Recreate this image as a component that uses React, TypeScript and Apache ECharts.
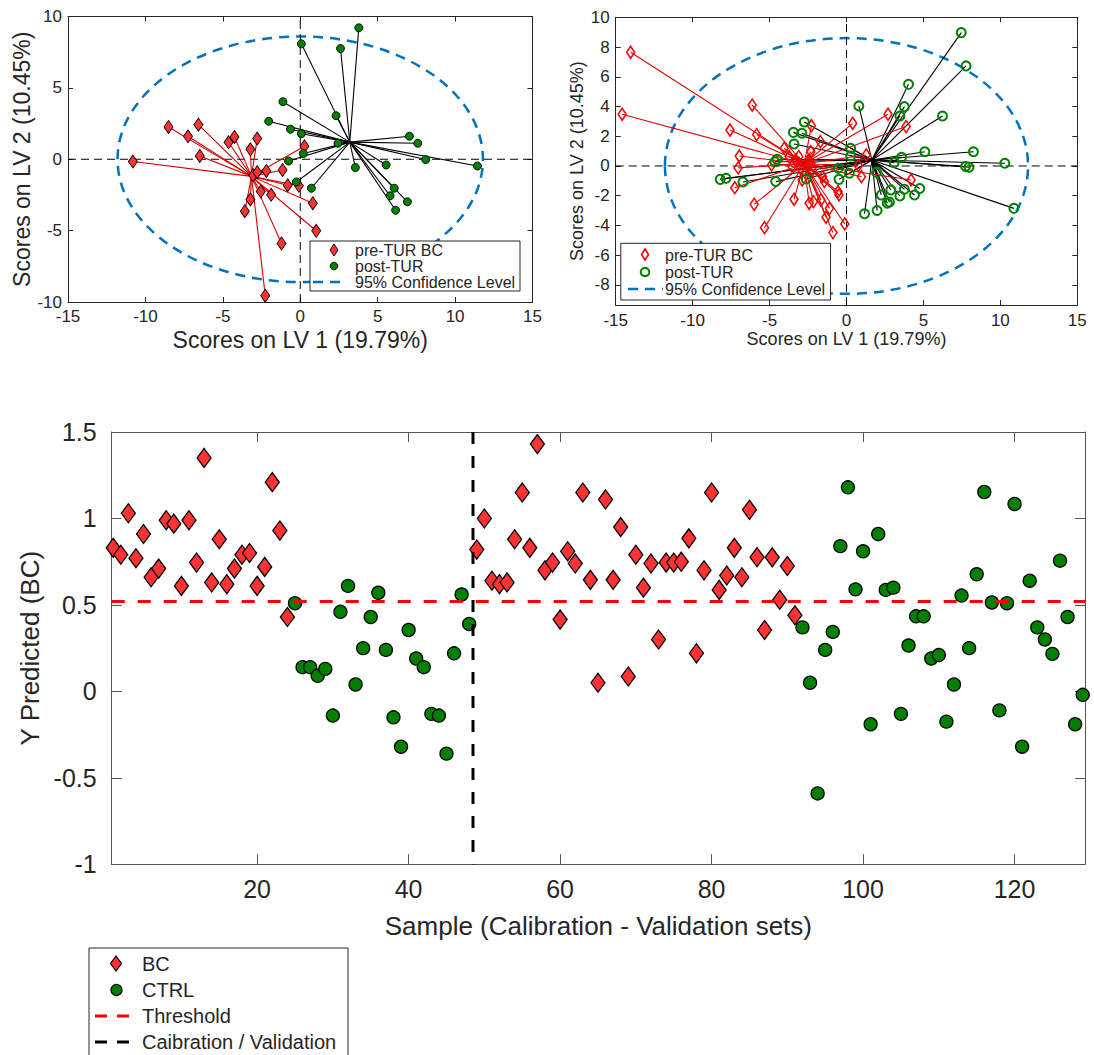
import React, { useEffect, useRef } from "react";
import * as echarts from "echarts";

const FONT = "'Liberation Sans', Arial, Helvetica, sans-serif";
const TXT = "#262626";
const RED_FILL = "#FF3333";
const GREEN = "#008000";
const BLUE = "#0072BD";

// ---------- Top-left: calibration scores (LV1, LV2) ----------
const calBCScores: number[][] = [
  [-10.81, -0.16], [-8.51, 2.26], [-7.25, 1.61], [-6.58, 2.42], [-6.49, 0.23], [-4.63, 1.19],
  [-4.25, 1.56], [-2.78, 1.45], [-3.22, 0.7], [-3.58, -3.64], [-3.22, -2.82], [-3.04, -1.12],
  [-2.78, -0.91], [-2.19, -0.82], [-2.55, -2.26], [-1.88, -2.49], [-1.14, -0.75], [-0.81, -1.82],
  [-0.09, -1.86], [0.27, 0.91], [0.81, -3.08], [1.03, -5.01], [-1.21, -5.9], [-2.26, -9.56],
];
const calCTRLScores: number[][] = [
  [0.07, 8.09], [2.6, 7.76], [3.78, 9.21], [-1.12, 4.03], [2.31, 3.05], [-2.04, 2.66],
  [-0.63, 2.1], [0.07, 1.79], [2.44, 1.12], [0.2, 0.4], [-0.76, -0.12], [-0.25, -1.59],
  [0.72, -2.03], [3.56, -0.58], [5.55, -0.4], [7.05, 1.61], [7.59, 1.12], [8.1, -0.02],
  [11.44, -0.47], [6.07, -2.03], [5.8, -2.56], [6.92, -2.98], [6.16, -3.57],
];
const calBCCentroid = [-3.15, -1.2];
const calCTRLCentroid = [3.2, 1.2];

// ---------- Top-right: validation scores ----------
const valBCScores: number[][] = [
  [-14.03, 7.65], [-14.58, 3.48], [-7.57, 2.42], [-6.13, 4.1], [-5.84, 2.11], [-6.97, 0.67],
  [-7.04, -0.13], [-7.26, -1.46], [-6.0, -2.58], [-5.33, -4.15], [-4.87, 0.07], [-4.05, 1.19],
  [-3.72, 0.63], [-3.41, -2.24], [-2.88, -0.94], [-2.43, -2.51], [-2.15, -2.4], [-2.28, 2.71],
  [-2.32, 0.96], [-1.7, 1.64], [-1.55, -0.72], [-1.44, -1.05], [-1.66, -2.29], [-1.33, -3.45],
  [-1.11, -2.85], [-0.88, -4.48], [-0.55, -1.73], [-0.49, -1.95], [-0.11, -3.9], [0.4, 2.87],
  [0.77, 0.02], [0.97, -0.72], [1.28, 0.74], [2.7, 3.48], [3.87, 2.65], [4.2, -0.94],
  [-3.32, 0.4], [-3.1, 0.63], [-2.99, -0.16], [-2.54, 0.29], [-2.32, 0.18], [-2.21, -0.27], [-3.54, -0.04],
];
const valCTRLScores: number[][] = [
  [7.46, 8.97], [7.77, 6.73], [4.03, 5.49], [3.76, 3.99], [3.47, 3.36], [6.24, 3.36],
  [0.8, 4.04], [-2.74, 2.96], [-3.45, 2.26], [-2.9, 2.2], [-3.41, 1.48], [0.27, 1.19],
  [0.27, 0.67], [-4.51, 0.45], [-4.65, 0.29], [-4.6, -1.05], [-6.73, -1.08], [-7.83, -0.83],
  [-8.21, -0.9], [-2.63, -0.87], [-0.53, -0.16], [-0.49, -0.9], [0.18, -0.49], [1.95, -0.43],
  [1.17, -3.21], [1.99, -3.0], [2.26, -1.95], [2.65, -2.51], [2.79, -2.42], [2.88, -1.61],
  [3.1, 0.22], [3.58, 0.58], [3.47, -2.02], [3.76, -1.57], [4.42, -1.95], [4.76, -1.52],
  [5.09, 0.96], [8.25, 0.96], [10.29, 0.18], [7.74, -0.04], [7.96, -0.09], [10.88, -2.85],
];
const valBCCentroid = [-2.75, 0.15];
const valCTRLCentroid = [1.65, 0.4];

const confidenceSemiAxes = [11.8, 8.6];
const lv1Ticks = [-15, -10, -5, 0, 5, 10, 15];
const calLv2Ticks = [-10, -5, 0, 5, 10];
const valLv2Ticks = [-8, -6, -4, -2, 0, 2, 4, 6, 8, 10];

// ---------- Bottom: Y predicted ----------
const calBCPred = [0.83, 0.79, 1.03, 0.77, 0.91, 0.66, 0.71, 0.99, 0.97, 0.61, 0.99, 0.745, 1.35, 0.63, 0.88, 0.62, 0.71, 0.79, 0.8, 0.61, 0.72, 1.21, 0.93, 0.43];
const calCTRLPred = [0.51, 0.14, 0.14, 0.09, 0.13, -0.14, 0.46, 0.61, 0.04, 0.25, 0.43, 0.57, 0.24, -0.15, -0.32, 0.355, 0.19, 0.14, -0.13, -0.14, -0.36, 0.22, 0.56, 0.39];
const valBCPred = [0.82, 1.0, 0.64, 0.62, 0.63, 0.88, 1.15, 0.83, 1.43, 0.7, 0.745, 0.415, 0.81, 0.74, 1.15, 0.645, 0.05, 1.11, 0.645, 0.95, 0.086, 0.79, 0.6, 0.74, 0.3, 0.745, 0.745, 0.75, 0.885, 0.22, 0.7, 1.15, 0.587, 0.67, 0.83, 0.66, 1.05, 0.776, 0.355, 0.775, 0.53, 0.725, 0.44];
const valCTRLPred = [0.37, 0.05, -0.59, 0.24, 0.344, 0.84, 1.18, 0.59, 0.81, -0.19, 0.91, 0.587, 0.6, -0.13, 0.265, 0.434, 0.434, 0.19, 0.21, -0.175, 0.04, 0.554, 0.25, 0.677, 1.153, 0.514, -0.11, 0.51, 1.084, -0.32, 0.64, 0.37, 0.3, 0.217, 0.756, 0.43, -0.19, -0.02];
const threshold = 0.52;
const calValBoundary = 48.5;
const sampleTicks = [20, 40, 60, 80, 100, 120];
const yPredTicks = [-1, -0.5, 0, 0.5, 1, 1.5];
const sampleRange = [0.8, 129.3];
const yPredRange = [-1, 1.5];

function axis(o: any) {
  return {
    type: "value",
    gridIndex: o.grid,
    position: o.pos,
    min: o.min,
    max: o.max,
    axisLine: { show: true, onZero: false, lineStyle: { color: o.color, width: 1 } },
    axisTick: { show: true, inside: true, length: o.tickLen, customValues: o.ticks, lineStyle: { color: o.color, width: 1 } },
    axisLabel: {
      show: !!o.labels,
      customValues: o.ticks,
      fontSize: o.fs,
      color: TXT,
      fontFamily: FONT,
      margin: o.margin,
      formatter: (v: number) => String(v),
    },
    splitLine: { show: false },
    name: o.name || "",
    nameLocation: "middle",
    nameGap: o.nameGap || 0,
    nameTextStyle: { fontSize: o.nfs || 12, color: TXT, fontFamily: FONT },
    silent: true,
  };
}

function spokes(points: number[][], centroid: number[]) {
  return points.map((p) => ({ coords: [centroid, p] }));
}

function buildSamples(groups: number[][]) {
  // returns [[sample, value]...] for consecutive groups
  let n = 1;
  return groups.map((g) => g.map((v) => [n++, v]));
}

export default function App() {
  const ref = useRef<HTMLDivElement>(null);
  useEffect(() => {
    const chart = echarts.init(ref.current!, null, { renderer: "svg" });
    const [calBCS, calCTRLS, valBCS, valCTRLS] = buildSamples([calBCPred, calCTRLPred, valBCPred, valCTRLPred]);

    const option: any = {
      animation: false,
      grid: [
        { left: 68, top: 16.5, width: 464.5, height: 285.5, containLabel: false, outerBoundsMode: "none" },
        { left: 615.7, top: 17.3, width: 461.6, height: 287.7, containLabel: false, outerBoundsMode: "none" },
        { left: 111.7, top: 432, width: 973.3, height: 432.3, containLabel: false, outerBoundsMode: "none" },
      ],
      xAxis: [
        axis({ grid: 0, pos: "bottom", min: -15, max: 15, ticks: lv1Ticks, color: TXT, tickLen: 5, labels: true, fs: 17, margin: 6, name: "Scores on LV 1 (19.79%)", nameGap: 26, nfs: 23 }),
        axis({ grid: 0, pos: "top", min: -15, max: 15, ticks: lv1Ticks, color: TXT, tickLen: 5 }),
        axis({ grid: 1, pos: "bottom", min: -15, max: 15, ticks: lv1Ticks, color: TXT, tickLen: 5, labels: true, fs: 17, margin: 7, name: "Scores on LV 1 (19.79%)", nameGap: 25, nfs: 18 }),
        axis({ grid: 1, pos: "top", min: -15, max: 15, ticks: lv1Ticks, color: TXT, tickLen: 5 }),
        axis({ grid: 2, pos: "bottom", min: sampleRange[0], max: sampleRange[1], ticks: sampleTicks, color: "#555", tickLen: 10, labels: true, fs: 25, margin: 12, name: "Sample (Calibration - Validation sets)", nameGap: 49, nfs: 26 }),
        axis({ grid: 2, pos: "top", min: sampleRange[0], max: sampleRange[1], ticks: sampleTicks, color: "#555", tickLen: 10 }),
      ],
      yAxis: [
        axis({ grid: 0, pos: "left", min: -10, max: 10, ticks: calLv2Ticks, color: TXT, tickLen: 5, labels: true, fs: 17, margin: 6, name: "Scores on LV 2 (10.45%)", nameGap: 33, nfs: 23 }),
        axis({ grid: 0, pos: "right", min: -10, max: 10, ticks: calLv2Ticks, color: TXT, tickLen: 5 }),
        axis({ grid: 1, pos: "left", min: -9.35, max: 10, ticks: valLv2Ticks, color: TXT, tickLen: 5, labels: true, fs: 17, margin: 6, name: "Scores on LV 2 (10.45%)", nameGap: 30, nfs: 18 }),
        axis({ grid: 1, pos: "right", min: -9.35, max: 10, ticks: valLv2Ticks, color: TXT, tickLen: 5 }),
        axis({ grid: 2, pos: "left", min: yPredRange[0], max: yPredRange[1], ticks: yPredTicks, color: "#555", tickLen: 10, labels: true, fs: 25, margin: 15, name: "Y Predicted (BC)", nameGap: 60, nfs: 26 }),
        axis({ grid: 2, pos: "right", min: yPredRange[0], max: yPredRange[1], ticks: yPredTicks, color: "#555", tickLen: 10 }),
      ],
      series: [
        // ---- top-left ----
        { type: "line", xAxisIndex: 0, yAxisIndex: 0, data: [[0, -10], [0, 10]], symbol: "none", z: 1, silent: true, lineStyle: { color: "#000", width: 1, type: [8, 5] } },
        { type: "line", xAxisIndex: 0, yAxisIndex: 0, data: [[-15, 0], [15, 0]], symbol: "none", z: 1, silent: true, lineStyle: { color: "#000", width: 1, type: [8, 5] } },
        { type: "lines", coordinateSystem: "cartesian2d", xAxisIndex: 0, yAxisIndex: 0, z: 2, silent: true, data: spokes(calCTRLScores, calCTRLCentroid), lineStyle: { color: "#000", width: 1.1, opacity: 1, curveness: 0 } },
        { type: "lines", coordinateSystem: "cartesian2d", xAxisIndex: 0, yAxisIndex: 0, z: 2, silent: true, data: spokes(calBCScores, calBCCentroid), lineStyle: { color: "#D40000", width: 1.1, opacity: 1, curveness: 0 } },
        { name: "pre-TUR BC", type: "scatter", xAxisIndex: 0, yAxisIndex: 0, z: 3, silent: true, symbol: "diamond", symbolSize: [9, 13], data: calBCScores, itemStyle: { color: RED_FILL, borderColor: "#000", borderWidth: 0.9, opacity: 1 } },
        { name: "post-TUR", type: "scatter", xAxisIndex: 0, yAxisIndex: 0, z: 3, silent: true, symbol: "circle", symbolSize: 8, data: calCTRLScores, itemStyle: { color: GREEN, borderColor: "#000", borderWidth: 0.9, opacity: 1 } },
        // ---- top-right ----
        { type: "line", xAxisIndex: 2, yAxisIndex: 2, data: [[0, -9.35], [0, 10]], symbol: "none", z: 1, silent: true, lineStyle: { color: "#000", width: 1, type: [8, 5] } },
        { type: "line", xAxisIndex: 2, yAxisIndex: 2, data: [[-15, 0], [15, 0]], symbol: "none", z: 1, silent: true, lineStyle: { color: "#000", width: 1, type: [8, 5] } },
        { type: "lines", coordinateSystem: "cartesian2d", xAxisIndex: 2, yAxisIndex: 2, z: 2, silent: true, data: spokes(valCTRLScores, valCTRLCentroid), lineStyle: { color: "#000", width: 1.1, opacity: 1, curveness: 0 } },
        { type: "lines", coordinateSystem: "cartesian2d", xAxisIndex: 2, yAxisIndex: 2, z: 2, silent: true, data: spokes(valBCScores, valBCCentroid), lineStyle: { color: "#E00000", width: 1.1, opacity: 1, curveness: 0 } },
        { name: "pre-TUR BC val", type: "scatter", xAxisIndex: 2, yAxisIndex: 2, z: 3, silent: true, symbol: "diamond", symbolSize: [8, 12], data: valBCScores, itemStyle: { color: "rgba(255,255,255,0)", borderColor: "#FF0000", borderWidth: 1.6, opacity: 1 } },
        { name: "post-TUR val", type: "scatter", xAxisIndex: 2, yAxisIndex: 2, z: 3, silent: true, symbol: "circle", symbolSize: 9, data: valCTRLScores, itemStyle: { color: "rgba(255,255,255,0)", borderColor: GREEN, borderWidth: 2, opacity: 1 } },
        // ---- bottom ----
        { name: "BC", type: "scatter", xAxisIndex: 4, yAxisIndex: 4, z: 3, silent: true, symbol: "diamond", symbolSize: [14, 19], data: [...calBCS, ...valBCS], itemStyle: { color: RED_FILL, borderColor: "#000", borderWidth: 1.3, opacity: 1 } },
        { name: "CTRL", type: "scatter", xAxisIndex: 4, yAxisIndex: 4, z: 3, silent: true, symbol: "circle", symbolSize: 13, data: [...calCTRLS, ...valCTRLS], itemStyle: { color: GREEN, borderColor: "#000", borderWidth: 1.3, opacity: 1 } },
        { name: "Threshold", type: "line", xAxisIndex: 4, yAxisIndex: 4, z: 5, silent: true, symbol: "none", data: [[sampleRange[0], threshold], [sampleRange[1], threshold]], lineStyle: { color: "#FF0000", width: 3, type: [13, 13] } },
        { name: "Caibration / Validation", type: "line", xAxisIndex: 4, yAxisIndex: 4, z: 5, silent: true, symbol: "none", data: [[calValBoundary, yPredRange[1]], [calValBoundary, yPredRange[0]]], lineStyle: { color: "#000", width: 3, type: [12, 12] } },
      ],
    };
    chart.setOption(option);

    const ellipseFor = (xi: number, yi: number) => {
      const c = chart.convertToPixel({ xAxisIndex: xi, yAxisIndex: yi } as any, [0, 0]) as number[];
      const e = chart.convertToPixel({ xAxisIndex: xi, yAxisIndex: yi } as any, confidenceSemiAxes) as number[];
      return { cx: c[0], cy: c[1], rx: Math.abs(e[0] - c[0]), ry: Math.abs(c[1] - e[1]) };
    };
    const diamond = (cx: number, cy: number, w: number, h: number) => [[cx, cy - h / 2], [cx + w / 2, cy], [cx, cy + h / 2], [cx - w / 2, cy]];
    const text = (x: number, y: number, t: string, fs: number) => ({
      type: "text", x, y, z: 11, silent: true,
      style: { text: t, fill: TXT, fontSize: fs, fontFamily: FONT, align: "left", verticalAlign: "middle", textAlign: "left", textVerticalAlign: "middle" },
    });
    const box = (x: number, y: number, w: number, h: number) => ({
      type: "rect", z: 10, silent: true, shape: { x, y, width: w, height: h }, style: { fill: "#fff", stroke: TXT, lineWidth: 1 },
    });

    const graphics: any[] = [
      { type: "ellipse", z: 1, silent: true, shape: ellipseFor(0, 0), style: { fill: "none", stroke: BLUE, lineWidth: 2.5, lineDash: [10, 7] } },
      { type: "ellipse", z: 1, silent: true, shape: ellipseFor(2, 2), style: { fill: "none", stroke: BLUE, lineWidth: 2.5, lineDash: [10, 7] } },
      // top-left legend
      box(310, 241, 210, 50),
      { type: "polygon", z: 11, silent: true, shape: { points: diamond(334, 250, 8, 12) }, style: { fill: RED_FILL, stroke: "#000", lineWidth: 0.9 } },
      text(355, 250, "pre-TUR BC", 16),
      { type: "circle", z: 11, silent: true, shape: { cx: 334, cy: 266, r: 3.8 }, style: { fill: GREEN, stroke: "#000", lineWidth: 0.9 } },
      text(355, 266, "post-TUR", 16),
      { type: "line", z: 11, silent: true, shape: { x1: 313, y1: 282, x2: 347, y2: 282 }, style: { stroke: BLUE, lineWidth: 2.5, lineDash: [10, 7] } },
      text(355, 282, "95% Confidence Level", 16),
      // top-right legend
      box(620.8, 243.3, 209.7, 56.7),
      { type: "polygon", z: 11, silent: true, shape: { points: diamond(645, 254.5, 7, 11) }, style: { fill: "none", stroke: "#FF0000", lineWidth: 1.6 } },
      text(665, 255, "pre-TUR BC", 16),
      { type: "circle", z: 11, silent: true, shape: { cx: 645, cy: 272, r: 4.3 }, style: { fill: "none", stroke: GREEN, lineWidth: 2 } },
      text(665, 272, "post-TUR", 16),
      { type: "line", z: 11, silent: true, shape: { x1: 628, y1: 289, x2: 663, y2: 289 }, style: { stroke: BLUE, lineWidth: 2.5, lineDash: [10, 7] } },
      text(665, 289, "95% Confidence Level", 16),
      // bottom legend
      box(89, 948, 259, 130),
      { type: "polygon", z: 11, silent: true, shape: { points: diamond(116, 963.5, 11, 15) }, style: { fill: RED_FILL, stroke: "#000", lineWidth: 1.2 } },
      text(142, 964, "BC", 20),
      { type: "circle", z: 11, silent: true, shape: { cx: 116.5, cy: 990, r: 5.5 }, style: { fill: GREEN, stroke: "#000", lineWidth: 1.2 } },
      text(142, 990, "CTRL", 20),
      { type: "line", z: 11, silent: true, shape: { x1: 95, y1: 1016, x2: 129, y2: 1016 }, style: { stroke: "#FF0000", lineWidth: 3, lineDash: [12, 10] } },
      text(142, 1016, "Threshold", 20),
      { type: "line", z: 11, silent: true, shape: { x1: 95, y1: 1042, x2: 129, y2: 1042 }, style: { stroke: "#000", lineWidth: 3, lineDash: [12, 10] } },
      text(142, 1042, "Caibration / Validation", 20),
    ];
    chart.setOption({ graphic: graphics });

    return () => chart.dispose();
  }, []);

  return <div ref={ref} style={{ position: "absolute", left: 0, top: 0, width: 1094, height: 1055, background: "#fff" }} />;
}
